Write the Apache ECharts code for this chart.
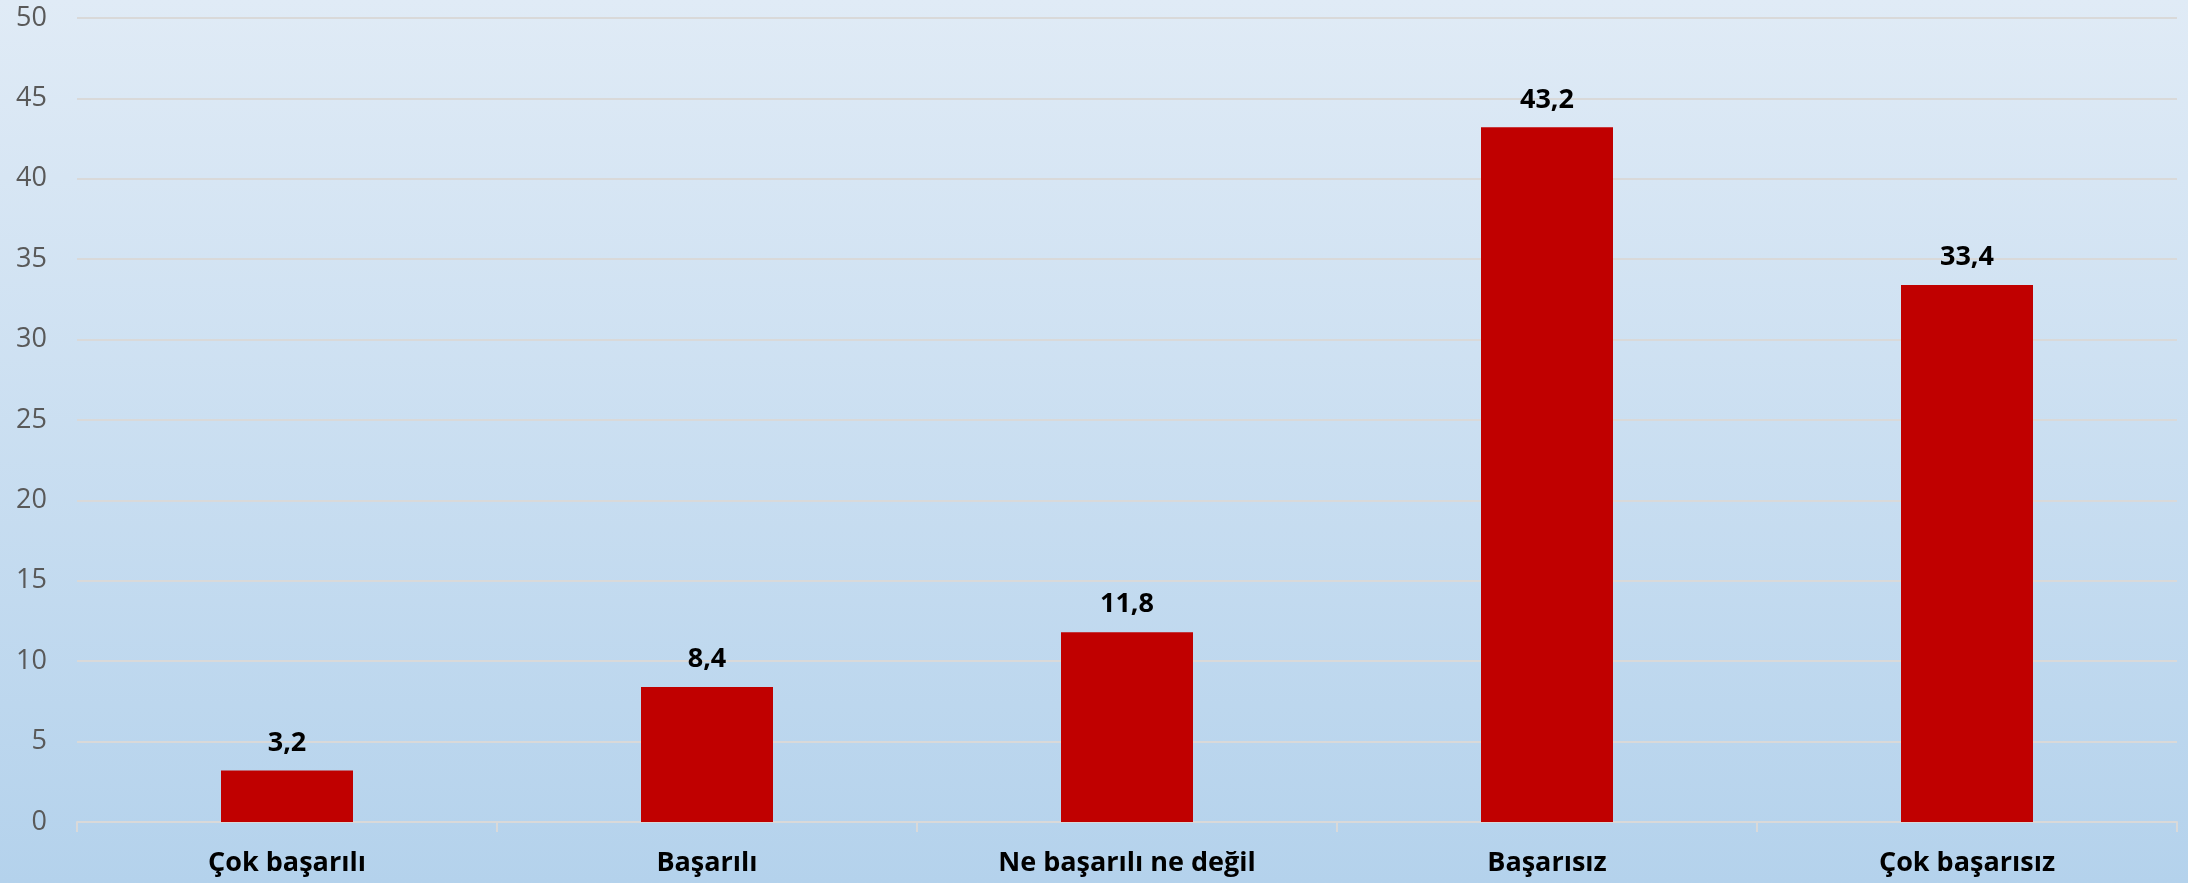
<!DOCTYPE html>
<html>
<head>
<meta charset="utf-8">
<script src="https://cdn.jsdelivr.net/npm/echarts@6/dist/echarts.min.js"></script>
<style>
  html, body { margin: 0; padding: 0; }
  #chart {
    width: 2188px;
    height: 883px;
    background: linear-gradient(to bottom, #e0ebf6 0%, #b4d2ec 100%);
  }
</style>
</head>
<body>
<div id="chart"></div>
<script>
// kategoriler ve değerler
const categories = ['Çok başarılı', 'Başarılı', 'Ne başarılı ne değil', 'Başarısız', 'Çok başarısız']
const values = [3.2, 8.4, 11.8, 43.2, 33.4]

const myChart = echarts.init(document.getElementById('chart'), null, {
  width: 2188,
  height: 883
})

const option = {
  backgroundColor: 'transparent',
  animation: false,
  grid: {
    left: 77,
    right: 11,
    top: 18,
    bottom: 61
  },
  xAxis: {
    type: 'category',
    data: categories,
    axisLine: {
      show: true,
      lineStyle: { color: '#d9d9d9', width: 2 }
    },
    axisTick: {
      show: true,
      length: 10,
      lineStyle: { color: '#d9d9d9', width: 2 }
    },
    axisLabel: {
      margin: 28,
      color: '#000000',
      fontWeight: 'bold',
      fontSize: 27,
      fontFamily: 'Open Sans'
    }
  },
  yAxis: {
    type: 'value',
    min: 0,
    max: 50,
    interval: 5,
    axisLine: { show: false },
    axisTick: { show: false },
    splitLine: {
      lineStyle: { color: '#d9d9d9', width: 2 }
    },
    axisLabel: {
      margin: 30,
      color: '#595959',
      fontSize: 27,
      fontFamily: 'Open Sans'
    }
  },
  series: [
    {
      type: 'bar',
      data: values,
      barWidth: 132,
      itemStyle: { color: '#c00000' },
      label: {
        show: true,
        position: 'top',
        distance: 14,
        color: '#000000',
        fontWeight: 'bold',
        fontSize: 27,
        fontFamily: 'Open Sans',
        formatter: (p) => String(p.value).replace('.', ',')
      }
    }
  ]
}

option && myChart.setOption(option)
</script>
</body>
</html>
